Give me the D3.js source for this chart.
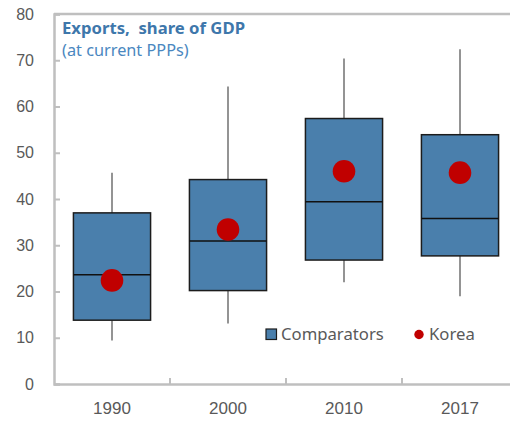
<!DOCTYPE html>
<html><head><meta charset="utf-8">
<script src="https://cdn.jsdelivr.net/npm/d3@7"></script>
<style>body{margin:0;background:#fff}svg{display:block;font-family:"Noto Sans","Open Sans",sans-serif}</style>
</head><body><svg id="c" width="510" height="422"></svg>
<script>
const categories = ["1990","2000","2010","2017"];
const whiskerLow  = [9.4, 13.1, 22.0, 19.0];
const boxLow      = [13.8, 20.2, 26.8, 27.7];
const median      = [23.6, 30.9, 39.4, 35.8];
const boxHigh     = [37.0, 44.2, 57.4, 53.9];
const whiskerHigh = [45.7, 64.3, 70.4, 72.4];
const korea       = [22.4, 33.4, 46.0, 45.7];
const yTicks = [0,10,20,30,40,50,60,70,80];

const svg = d3.select("#c");
const L = 54, R = 518, T = 14, B = 384;
const x = d3.scaleBand().domain(categories).range([L, R]);
const y = d3.scaleLinear().domain([0, 80]).range([B, T]);
const bw = x.bandwidth() * 0.665;
const gridC = "#bfbfbf";

// frame top
svg.append("line").attr("x1", L).attr("x2", 510).attr("y1", T).attr("y2", T)
  .attr("stroke", gridC).attr("stroke-width", 2.5);

// y axis
const ya = svg.append("g").attr("transform", `translate(${L},0)`)
  .call(d3.axisLeft(y).tickValues(yTicks).tickSize(-6).tickPadding(20));
ya.select(".domain").attr("stroke", gridC).attr("stroke-width", 2.5);
ya.selectAll(".tick line").attr("stroke", gridC).attr("stroke-width", 2);
ya.selectAll(".tick text").attr("font-size", 16).attr("fill", "#595959")
  .attr("font-family", "inherit");

// x axis
const xa = svg.append("g").attr("transform", `translate(0,${B})`)
  .call(d3.axisBottom(x).tickSize(0).tickPadding(18));
xa.select(".domain").attr("stroke", gridC).attr("stroke-width", 2.5);
xa.selectAll(".tick text").attr("font-size", 17).attr("fill", "#595959").attr("font-family", "inherit");
// category boundary ticks
svg.append("g").selectAll("line").data(categories.slice(1)).join("line")
  .attr("x1", d => x(d)).attr("x2", d => x(d)).attr("y1", B).attr("y2", B - 6)
  .attr("stroke", gridC).attr("stroke-width", 2);

const g = svg.append("g");
categories.forEach((c, i) => {
  const cx = x(c) + x.bandwidth() / 2;
  g.append("line").attr("x1", cx).attr("x2", cx).attr("y1", y(whiskerHigh[i])).attr("y2", y(boxHigh[i]))
    .attr("stroke", "#707070").attr("stroke-width", 1.5);
  g.append("line").attr("x1", cx).attr("x2", cx).attr("y1", y(boxLow[i])).attr("y2", y(whiskerLow[i]))
    .attr("stroke", "#707070").attr("stroke-width", 1.5);
  g.append("rect").attr("x", cx - bw / 2).attr("width", bw)
    .attr("y", y(boxHigh[i])).attr("height", y(boxLow[i]) - y(boxHigh[i]))
    .attr("fill", "#4a7fac").attr("stroke", "#1c1c1c").attr("stroke-width", 1.5);
  g.append("line").attr("x1", cx - bw / 2).attr("x2", cx + bw / 2).attr("y1", y(median[i])).attr("y2", y(median[i]))
    .attr("stroke", "#111").attr("stroke-width", 1.5);
  g.append("circle").attr("cx", cx).attr("cy", y(korea[i])).attr("r", 11.3).attr("fill", "#c00000");
});

// title
svg.append("text").attr("x", 62).attr("y", 34).attr("font-size", 16.7).attr("font-weight", "bold")
  .attr("fill", "#3e77ab").attr("xml:space", "preserve").text("Exports,  share of GDP");
svg.append("text").attr("x", 62).attr("y", 56).attr("font-size", 16.3)
  .attr("fill", "#4a87c0").text("(at current PPPs)");

// legend
svg.append("rect").attr("x", 266).attr("y", 329).attr("width", 10.5).attr("height", 10.5)
  .attr("fill", "#4a7fac").attr("stroke", "#1c1c1c").attr("stroke-width", 1.2);
svg.append("text").attr("x", 281).attr("y", 340).attr("font-size", 16.7).attr("fill", "#595959").text("Comparators");
svg.append("circle").attr("cx", 419).attr("cy", 334.5).attr("r", 4.7).attr("fill", "#c00000");
svg.append("text").attr("x", 429).attr("y", 340).attr("font-size", 16.7).attr("fill", "#595959").text("Korea");
</script></body></html>
